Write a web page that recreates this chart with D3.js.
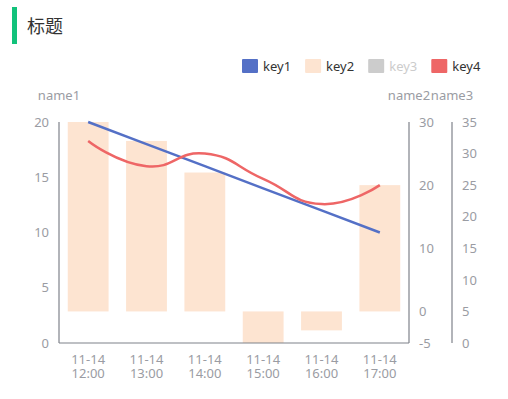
<!DOCTYPE html>
<html>
<head>
<meta charset="utf-8">
<script src="https://cdn.jsdelivr.net/npm/d3@7/dist/d3.min.js"></script>
<style>
  body { margin: 0; background: #fff; }
  svg { display: block; font-family: "Noto Sans", "Noto Sans CJK SC", sans-serif; }
</style>
</head>
<body>
<svg id="chart" width="508" height="399"></svg>
<script>
// data
const categories = ["11-14 12:00", "11-14 13:00", "11-14 14:00", "11-14 15:00", "11-14 16:00", "11-14 17:00"];
const key1 = [20, 18, 16, 14, 12, 10];     // line, axis name1
const key2 = [30, 27, 22, -5, -3, 20];     // bars, axis name2
const key4 = [32, 28, 30, 26, 22, 25];     // smooth line, axis name3
const legendKeys = ["key1", "key2", "key3", "key4"];
const legendColors = ["#5470c6", "#fde4d1", "#cccccc", "#ee6666"];
const legendOff = [false, false, true, false];
const ticks1 = [0, 5, 10, 15, 20];
const ticks2 = [-5, 0, 10, 20, 30];
const ticks3 = [0, 5, 10, 15, 20, 25, 30, 35];

const svg = d3.select("#chart");
const labelColor = "#9a9ca3", lineColor = "#7f828a";

const gLeft = 59, gRight = 409, gRight2 = 452, gTop = 122, gBottom = 343;

const x = d3.scaleBand().domain(categories).range([gLeft, gRight])
    .paddingInner(0.3).paddingOuter(0.15);
const y1 = d3.scaleLinear().domain([0, 20]).range([gBottom, gTop]);
const y2 = d3.scaleLinear().domain([-5, 30]).range([gBottom, gTop]);
const y3 = d3.scaleLinear().domain([0, 35]).range([gBottom, gTop]);
const cx = d => x(d) + x.bandwidth() / 2;

// title
svg.append("rect").attr("x", 12).attr("y", 7).attr("width", 5).attr("height", 37).attr("fill", "#12c27b");
svg.append("text").attr("x", 27).attr("y", 33).attr("font-size", 18).attr("fill", "#333")
    .attr("font-family", "'Noto Sans CJK SC', sans-serif").text("标题");

// legend
let lx = 242;
legendKeys.forEach((k, i) => {
    svg.append("rect").attr("x", lx).attr("y", 59).attr("width", 16).attr("height", 14)
        .attr("rx", 1).attr("fill", legendColors[i]);
    const t = svg.append("text").attr("x", lx + 21).attr("y", 71).attr("font-size", 13)
        .attr("fill", legendOff[i] ? "#ccc" : "#333").text(k);
    lx += 21 + t.node().getComputedTextLength() + 14;
});

// bars
svg.append("g").selectAll("rect").data(categories).enter().append("rect")
    .attr("x", d => x(d))
    .attr("width", x.bandwidth())
    .attr("y", (d, i) => Math.min(y2(0), y2(key2[i])))
    .attr("height", (d, i) => Math.abs(y2(key2[i]) - y2(0)))
    .attr("fill", "#fde4d1");

// axes
function yAxis(scale, ticks, xpos, anchor, name) {
    const g = svg.append("g");
    g.append("line").attr("x1", xpos).attr("x2", xpos).attr("y1", gTop).attr("y2", gBottom)
        .attr("stroke", lineColor).attr("stroke-width", 1.2);
    g.selectAll("text.tick").data(ticks).enter().append("text")
        .attr("x", anchor === "end" ? xpos - 10 : xpos + 10)
        .attr("y", d => scale(d)).attr("dy", "0.36em")
        .attr("text-anchor", anchor).attr("font-size", 13).attr("fill", labelColor)
        .text(d => d);
    g.append("text").attr("x", xpos).attr("y", 100).attr("text-anchor", "middle")
        .attr("font-size", 13).attr("fill", labelColor).text(name);
}
yAxis(y1, ticks1, gLeft, "end", "name1");
yAxis(y2, ticks2, gRight, "start", "name2");
yAxis(y3, ticks3, gRight2, "start", "name3");

// x axis
const xg = svg.append("g");
xg.append("line").attr("x1", gLeft).attr("x2", gRight).attr("y1", gBottom).attr("y2", gBottom)
    .attr("stroke", lineColor).attr("stroke-width", 1.2);
categories.forEach(c => {
    const parts = c.split(" ");
    const t = xg.append("text").attr("text-anchor", "middle").attr("font-size", 13).attr("fill", labelColor);
    t.append("tspan").attr("x", cx(c)).attr("y", 364).text(parts[0]);
    t.append("tspan").attr("x", cx(c)).attr("y", 378).text(parts[1]);
});

// key1 straight line
svg.append("path")
    .attr("d", d3.line().x((d, i) => cx(categories[i])).y(d => y1(d))(key1))
    .attr("fill", "none").attr("stroke", "#5470c6").attr("stroke-width", 2.5);

// key4 smooth line, bezier control points like the original chart tool
function smoothPath(pts, smooth) {
    const p = d3.path();
    let cpx0, cpy0, prevX, prevY;
    pts.forEach(([px, py], k) => {
        if (k === 0) {
            p.moveTo(px, py); cpx0 = px; cpy0 = py;
        } else {
            let vx = 0, vy = 0, ratio = 0.5, ncx = px, ncy = py;
            if (k < pts.length - 1) {
                const [nx, ny] = pts[k + 1];
                vx = nx - prevX; vy = ny - prevY;
                const l0 = Math.hypot(px - prevX, py - prevY);
                const l1 = Math.hypot(nx - px, ny - py);
                ratio = l1 / (l0 + l1);
                ncx = px - vx * smooth * (1 - ratio);
                ncy = py - vy * smooth * (1 - ratio);
            }
            p.bezierCurveTo(cpx0, cpy0, ncx, ncy, px, py);
            cpx0 = px + vx * smooth * ratio;
            cpy0 = py + vy * smooth * ratio;
        }
        prevX = px; prevY = py;
    });
    return p.toString();
}
svg.append("path")
    .attr("d", smoothPath(key4.map((d, i) => [cx(categories[i]), y3(d)]), 0.5))
    .attr("fill", "none").attr("stroke", "#ee6666").attr("stroke-width", 2.5);
</script>
</body>
</html>
